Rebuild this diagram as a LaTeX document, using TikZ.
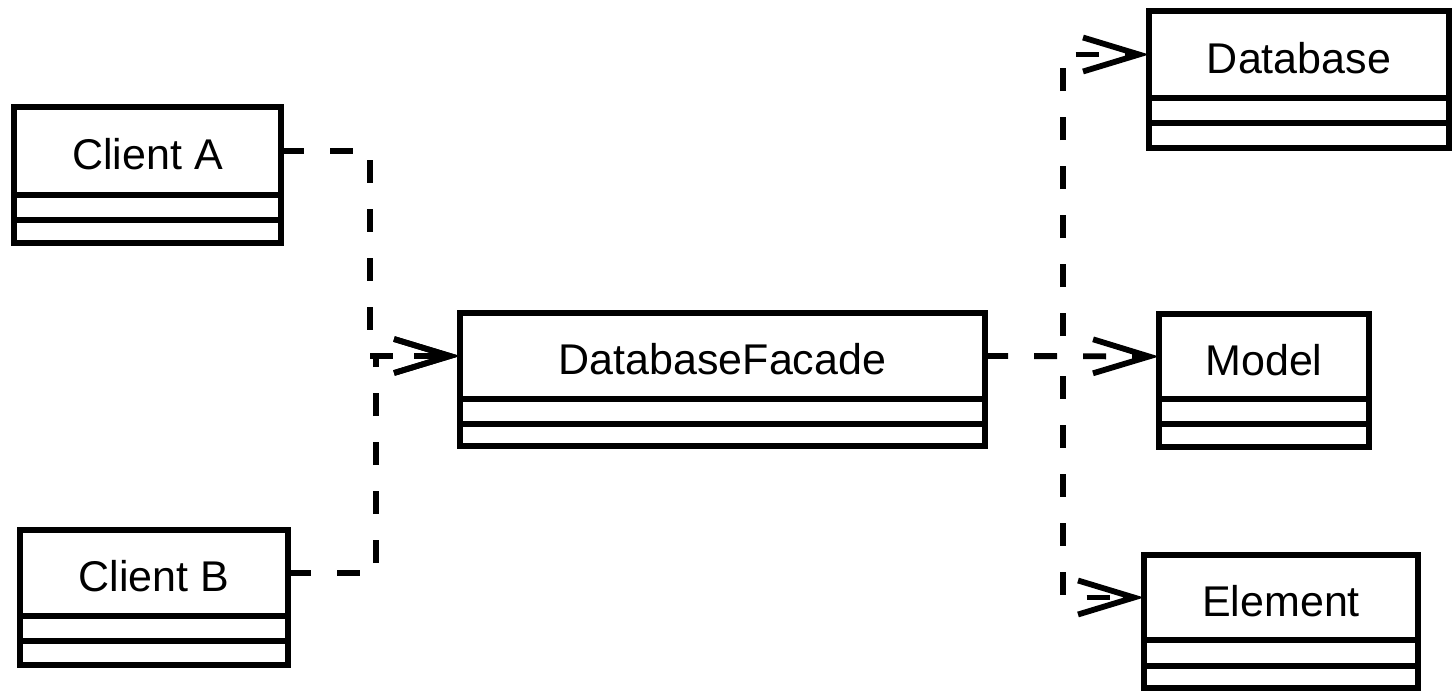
\documentclass[tikz,border=0pt]{standalone}
\usepackage{fontspec}
\setmainfont{Liberation Sans}
\usetikzlibrary{arrows.meta,calc}
\begin{document}
\begin{tikzpicture}[x=1pt,y=-1pt,
  cls/.style={draw, line width=5.8pt, rectangle, inner sep=0pt, outer sep=0pt, text height=37pt, text depth=0pt, font=\fontsize{43}{50}\selectfont},
  box/.style={draw, line width=5.8pt},
  dep/.style={line width=5.8pt, dash pattern=on 23pt off 26pt, -{Straight Barb[length=56pt,width=34pt]}}]
\useasboundingbox (0,0) rectangle (1452,691);
% classes
\node[cls, minimum width=267pt, minimum height=88pt] (ca) at (147.5,151) {Client A};
\draw[box] (ca.south west) rectangle ++(267,48);
\draw[box] ($(ca.south west)+(0,25)$) -- ++(267,0);

\node[cls, minimum width=268pt, minimum height=86pt] (cb) at (154,573) {Client B};
\draw[box] (cb.south west) rectangle ++(268,49);
\draw[box] ($(cb.south west)+(0,25)$) -- ++(268,0);

\node[cls, minimum width=525pt, minimum height=86pt] (fa) at (722.5,356) {DatabaseFacade};
\draw[box] (fa.south west) rectangle ++(525,47);
\draw[box] ($(fa.south west)+(0,25)$) -- ++(525,0);

\node[cls, minimum width=300pt, minimum height=87pt] (db) at (1299,54.5) {Database};
\draw[box] (db.south west) rectangle ++(300,50);
\draw[box] ($(db.south west)+(0,25)$) -- ++(300,0);

\node[cls, minimum width=210pt, minimum height=85pt] (mo) at (1264,356.5) {Model};
\draw[box] (mo.south west) rectangle ++(210,48);
\draw[box] ($(mo.south west)+(0,25)$) -- ++(210,0);

\node[cls, minimum width=274pt, minimum height=85pt] (el) at (1281,597.5) {Element};
\draw[box] (el.south west) rectangle ++(274,48);
\draw[box] ($(el.south west)+(0,26)$) -- ++(274,0);

% connectors
\coordinate (jl) at (370,356);
\coordinate (jl2) at (376,356);
\coordinate (jr) at (1063,356);
\draw[dep] (ca.east) -| (jl) -- (fa.west);
\draw[dep] (cb.east) -| (jl2) -- (fa.west);
\draw[dep] (fa.east) -- (mo.west);
\draw[dep] (fa.east) -- (jr) |- (db.west);
\draw[dep] (fa.east) -- (jr) |- (el.west);
\end{tikzpicture}
\end{document}
